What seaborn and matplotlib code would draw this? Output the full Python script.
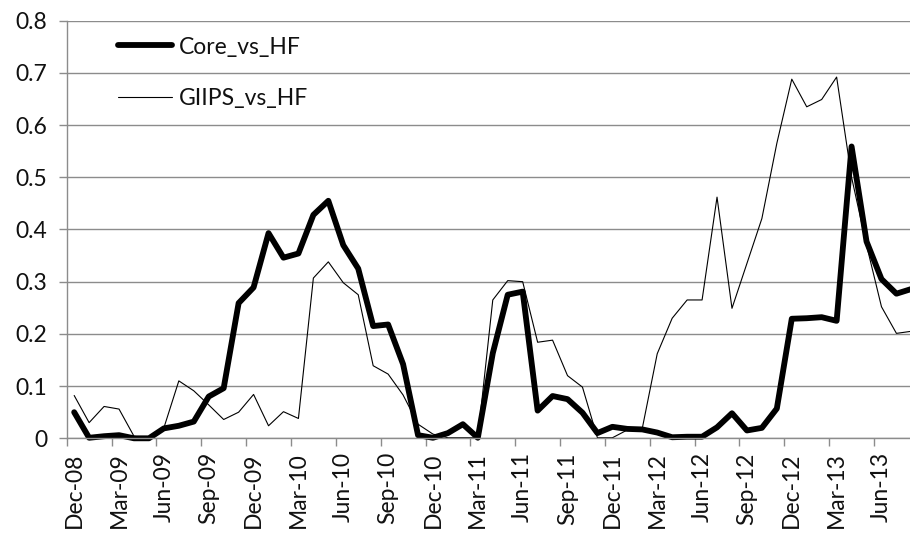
import numpy as np
import pandas as pd
import matplotlib
matplotlib.use("Agg")
import matplotlib.pyplot as plt
from matplotlib.ticker import FixedLocator
import seaborn as sns

# ── Veriler (aylık, Dec-08 .. Aug-13) ─────────────────────────────────────────
core_vs_hf = [
    0.050, 0.001, 0.004, 0.006, 0.000, 0.000, 0.019, 0.024, 0.032, 0.080,
    0.096, 0.259, 0.289, 0.393, 0.346, 0.354, 0.428, 0.455, 0.370, 0.325,
    0.215, 0.218, 0.142, 0.006, 0.001, 0.010, 0.027, 0.001, 0.163, 0.275,
    0.281, 0.053, 0.081, 0.075, 0.049, 0.010, 0.022, 0.018, 0.017, 0.011,
    0.002, 0.003, 0.003, 0.021, 0.048, 0.015, 0.020, 0.057, 0.229, 0.230,
    0.232, 0.225, 0.559, 0.377, 0.305, 0.277, 0.286,
]
giips_vs_hf = [
    0.082, 0.030, 0.061, 0.056, 0.004, 0.000, 0.020, 0.110, 0.091, 0.064,
    0.036, 0.050, 0.084, 0.024, 0.051, 0.038, 0.307, 0.338, 0.298, 0.275,
    0.139, 0.123, 0.083, 0.027, 0.008, 0.001, 0.001, 0.001, 0.265, 0.302,
    0.300, 0.184, 0.188, 0.120, 0.098, 0.001, 0.001, 0.016, 0.019, 0.162,
    0.230, 0.265, 0.265, 0.462, 0.249, 0.335, 0.421, 0.565, 0.688, 0.635,
    0.649, 0.692, 0.500, 0.370, 0.252, 0.201, 0.205,
]
tick_labels = [
    "Dec-08", "Mar-09", "Jun-09", "Sep-09", "Dec-09", "Mar-10", "Jun-10",
    "Sep-10", "Dec-10", "Mar-11", "Jun-11", "Sep-11", "Dec-11", "Mar-12",
    "Jun-12", "Sep-12", "Dec-12", "Mar-13", "Jun-13",
]

df = pd.DataFrame({
    "idx": np.arange(len(core_vs_hf)),
    "Core_vs_HF": core_vs_hf,
    "GIIPS_vs_HF": giips_vs_hf,
})

# ── Stil ──────────────────────────────────────────────────────────────────────
sns.set_theme(style="white")
plt.rcParams["font.family"] = ["Lato", "DejaVu Sans"]
GRID = "#8c8c8c"
TXT = "#111111"

fig = plt.figure(figsize=(9.10, 5.37), dpi=100)
n = len(core_vs_hf)
# Excel-benzeri: sağ kenar biraz kırpılmış
ax = fig.add_axes([0.0733, 0.1838, 57 * 14.95 / 910, 0.7777])

sns.lineplot(data=df, x="idx", y="Core_vs_HF", ax=ax, color="black",
             linewidth=4.2, label="Core_vs_HF", clip_on=False)
sns.lineplot(data=df, x="idx", y="GIIPS_vs_HF", ax=ax, color="black",
             linewidth=0.8, label="GIIPS_vs_HF", clip_on=False)

ax.set_xlim(-0.5, n - 0.5)
ax.set_ylim(0, 0.8)
ax.set_yticks(np.arange(0, 0.81, 0.1))
ax.set_yticklabels(["0"] + [f"{v:.1f}" for v in np.arange(0.1, 0.81, 0.1)])
ax.yaxis.grid(True, color=GRID, linewidth=1.0)
ax.xaxis.grid(False)
ax.set_axisbelow(True)

# x ekseni: etiketler kategori ortasında, çentikler kategori sınırlarında
ax.set_xticks(np.arange(0, n, 3)[:len(tick_labels)])
ax.set_xticklabels(tick_labels, rotation=90)
ax.xaxis.set_minor_locator(FixedLocator(np.arange(-0.5, n, 3)))
ax.tick_params(axis="x", which="major", length=0, pad=10, labelsize=16.5, colors=TXT)
ax.tick_params(axis="x", which="minor", length=6, width=1, color=GRID, bottom=True)
ax.tick_params(axis="y", length=6, width=1, color=GRID, left=True, pad=8,
               labelsize=16.5, labelcolor=TXT)

for s in ["top", "right"]:
    ax.spines[s].set_visible(False)
for s in ["left", "bottom"]:
    ax.spines[s].set_color(GRID)
    ax.spines[s].set_linewidth(1.0)

ax.set_xlabel("")
ax.set_ylabel("")

leg = ax.legend(loc="upper left", bbox_to_anchor=(0.1297, 0.932),
                bbox_transform=fig.transFigure, frameon=False, fontsize=16.5,
                handlelength=2.35, handletextpad=0.3, labelspacing=1.35,
                borderaxespad=0, borderpad=0)
for t in leg.get_texts():
    t.set_color(TXT)

fig.savefig("out.png", dpi=100)
